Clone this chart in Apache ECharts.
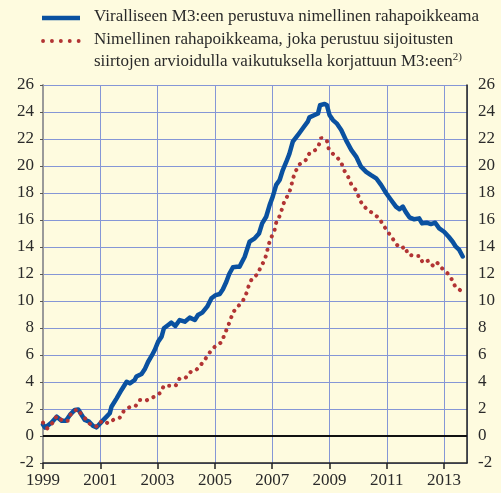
<!doctype html>
<html>
<head>
<meta charset="UTF-8">
<title></title>
<script src="https://cdn.jsdelivr.net/npm/echarts@6/dist/echarts.min.js"></script>
<style>
  html, body { margin: 0; padding: 0; background: #fefbdf; }
  #main { width: 501px; height: 493px; }
</style>
</head>
<body>
<div id="main"></div>
<script>
// Viralliseen M3:een perustuva (sininen viiva)
var blueYears = [1999.00,1999.07,1999.18,1999.30,1999.48,1999.65,1999.80,1999.94,2000.11,2000.23,2000.35,2000.46,2000.61,2000.75,2000.87,
  2001.05,2001.22,2001.33,2001.39,2001.57,2001.74,2001.92,2002.03,2002.09,2002.20,2002.26,2002.44,2002.55,2002.67,2002.79,2002.90,
  2003.02,2003.14,2003.22,2003.37,2003.48,2003.62,2003.77,2003.95,2004.12,2004.30,2004.41,2004.56,2004.73,2004.88,
  2005.03,2005.17,2005.28,2005.40,2005.50,2005.63,2005.77,2005.86,2006.04,2006.21,2006.39,2006.54,2006.65,2006.79,2006.91,
  2007.02,2007.14,2007.26,2007.37,2007.49,2007.60,2007.72,2007.90,2008.07,2008.24,2008.30,2008.48,2008.60,2008.67,2008.71,2008.83,2008.91,
  2009.00,2009.12,2009.25,2009.41,2009.58,2009.76,2009.93,2010.10,2010.28,2010.45,2010.63,2010.80,2010.98,
  2011.15,2011.32,2011.44,2011.56,2011.66,2011.79,2011.96,2012.13,2012.23,2012.39,2012.54,2012.69,2012.83,
  2013.00,2013.16,2013.30,2013.41,2013.53,2013.65];
var blueValues = [0.85,0.62,0.80,1.00,1.43,1.13,1.13,1.56,1.93,1.97,1.56,1.19,1.06,0.74,0.64,
  1.06,1.43,1.68,2.17,2.79,3.41,4.02,3.90,3.90,4.15,4.40,4.59,4.94,5.50,5.93,6.37,
  6.99,7.36,7.98,8.22,8.40,8.15,8.59,8.47,8.77,8.59,8.96,9.14,9.58,10.20,
  10.44,10.52,10.87,11.43,12.00,12.50,12.54,12.54,13.28,14.39,14.64,15.00,15.75,16.24,17.10,
  17.73,18.60,18.96,19.70,20.30,20.90,21.80,22.30,22.80,23.28,23.60,23.78,23.90,24.50,24.60,24.60,24.50,
  23.78,23.40,23.16,22.67,21.90,21.19,20.70,19.95,19.57,19.33,19.09,18.60,17.98,
  17.48,16.99,16.80,16.99,16.60,16.20,16.05,16.12,15.75,15.80,15.70,15.80,15.38,
  15.13,14.76,14.39,14.02,13.78,13.30];

// Korjattuun M3:een perustuva (punainen pisteviiva)
var redYears = [1999.00,1999.15,1999.34,1999.48,1999.69,1999.88,1999.98,2000.20,2000.35,2000.50,2000.64,2000.90,
  2001.05,2001.28,2001.45,2001.68,2001.82,2002.01,2002.23,2002.38,2002.59,2002.76,2002.96,
  2003.10,2003.22,2003.63,2003.77,2003.98,2004.16,2004.35,2004.53,2004.68,2004.84,
  2005.02,2005.23,2005.34,2005.44,2005.54,2005.63,2005.80,2005.98,2006.10,2006.19,2006.30,2006.50,2006.60,2006.73,2006.81,2006.87,2006.97,
  2007.08,2007.14,2007.26,2007.35,2007.43,2007.58,2007.66,2007.72,2007.81,2007.95,2008.16,2008.30,2008.51,2008.63,2008.71,2008.91,2008.97,
  2009.12,2009.25,2009.41,2009.52,2009.66,2009.76,2009.90,2010.02,2010.13,2010.31,2010.51,2010.71,2010.86,
  2011.01,2011.18,2011.32,2011.50,2011.65,2011.73,2011.96,2012.16,2012.25,2012.46,2012.62,2012.75,2012.93,
  2013.12,2013.27,2013.39,2013.59];
var redValues = [1.00,0.57,0.99,1.48,1.11,1.13,1.68,2.00,1.56,1.24,0.89,0.69,
  1.13,0.94,1.19,1.36,1.85,2.12,2.22,2.67,2.62,2.79,2.99,
  3.21,3.72,3.72,4.27,4.32,4.76,4.89,5.33,5.75,6.25,
  6.67,6.94,7.53,8.05,8.59,9.16,9.58,10.02,10.57,11.19,11.68,12.00,12.54,12.99,13.55,14.15,14.72,
  15.23,15.80,16.30,16.87,17.43,17.93,18.47,19.04,19.58,20.12,20.40,20.94,21.19,21.56,22.10,21.87,21.30,
  20.90,20.70,20.25,19.65,19.16,18.64,18.27,17.73,17.19,16.79,16.50,16.18,15.70,
  15.19,14.72,14.22,13.90,14.02,13.46,13.33,13.33,12.84,12.99,12.59,12.86,12.42,
  12.05,11.60,11.06,10.76];

var legendLabels = [
  'Viralliseen M3:een perustuva nimellinen rahapoikkeama',
  'Nimellinen rahapoikkeama, joka perustuu sijoitusten',
  'siirtojen arvioidulla vaikutuksella korjattuun M3:een{sup|2)}'
];

var font = '"Liberation Serif", "DejaVu Serif", serif';
var blue = '#0a51a0';
var red = '#b23434';
var gridColor = '#8596d6';

function pairs(xs, ys) {
  var out = [];
  for (var i = 0; i < xs.length; i++) out.push([xs[i], ys[i]]);
  return out;
}

var myChart = echarts.init(document.getElementById('main'));
var option = {
  backgroundColor: '#fefbdf',
  animation: false,
  grid: { left: 43, right: 34, top: 85, bottom: 30 },
  xAxis: {
    type: 'value',
    min: 1999,
    max: 2013.8,
    interval: 2,
    axisLine: { onZero: false, lineStyle: { color: '#222', width: 1.5 } },
    axisTick: { length: 6, lineStyle: { color: '#222', width: 1.5 } },
    axisLabel: {
      margin: 9,
      color: '#2a2a2a',
      fontFamily: font,
      fontSize: 17,
      showMaxLabel: false,
      formatter: function (v) { return (v % 2 === 1) ? String(v) : ''; }
    },
    splitLine: { show: true, lineStyle: { color: gridColor, width: 1 } }
  },
  yAxis: [
    {
      type: 'value',
      min: -2, max: 26, interval: 2,
      axisLine: { show: true, lineStyle: { color: '#9a9a9a', width: 2 } },
      axisTick: { show: true, length: 3, lineStyle: { color: '#555' } },
      axisLabel: { margin: 9, color: '#2a2a2a', fontFamily: font, fontSize: 17 },
      splitLine: { show: true, lineStyle: { color: gridColor, width: 1 } }
    },
    {
      type: 'value',
      position: 'right',
      min: -2, max: 26, interval: 2,
      axisLine: { show: true, lineStyle: { color: '#222', width: 1.5 } },
      axisTick: { show: false },
      axisLabel: { margin: 11, color: '#2a2a2a', fontFamily: font, fontSize: 17 },
      splitLine: { show: false }
    }
  ],
  series: [
    {
      name: 'virallinen',
      type: 'line',
      data: pairs(blueYears, blueValues),
      showSymbol: false,
      lineStyle: { color: blue, width: 4.5, cap: 'round', join: 'round' },
      z: 3,
      markLine: {
        silent: true,
        symbol: 'none',
        label: { show: false },
        lineStyle: { color: '#111', width: 2, type: 'solid' },
        data: [{ yAxis: 0 }],
        z: 2
      }
    },
    {
      name: 'korjattu',
      type: 'line',
      data: pairs(redYears, redValues),
      showSymbol: false,
      lineStyle: { color: red, width: 4, type: [0.1, 7], cap: 'round' },
      z: 5
    }
  ],
  graphic: [
    { type: 'line', shape: { x1: 42, y1: 18, x2: 80, y2: 18 }, style: { stroke: blue, lineWidth: 4.5 } },
    { type: 'line', shape: { x1: 43, y1: 41, x2: 80, y2: 41 }, style: { stroke: red, lineWidth: 3.8, lineDash: [0.1, 8.8], lineCap: 'round' } },
    { type: 'text', left: 94, top: 8, style: { text: legendLabels[0], font: '17px ' + font, fill: '#2a2a2a' } },
    { type: 'text', left: 94, top: 31, style: { text: legendLabels[1], font: '17px ' + font, fill: '#2a2a2a' } },
    { type: 'text', left: 94, top: 52, style: {
        text: legendLabels[2], fill: '#2a2a2a', fontFamily: font, fontSize: 17,
        rich: { sup: { fontSize: 11, fontFamily: font, verticalAlign: 'top', lineHeight: 20, padding: [0, 0, 6, 0] } }
      } }
  ]
};
myChart.setOption(option);
</script>
</body>
</html>
